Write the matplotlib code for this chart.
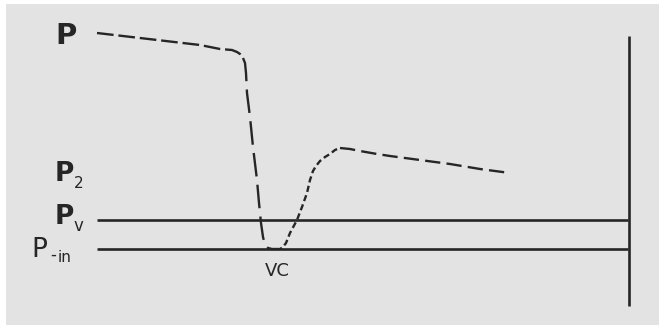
import matplotlib
matplotlib.use("Agg")
import matplotlib.pyplot as plt
from matplotlib.patches import Rectangle

# pressure trace (pixel coords, y down)
haut_x = [97, 140, 200, 220, 232, 237, 240, 243]
haut_y = [33, 38, 45, 49, 50, 52, 54, 58]
chute_x = [243, 245, 246, 247, 250, 253, 257, 259, 261, 263, 265, 268, 272, 276]
chute_y = [58, 63, 73, 93, 117, 147, 180, 203, 223, 237, 245, 248, 249, 249]
remontee_x = [276, 280, 283, 286, 290, 297, 302, 307, 310, 313, 316, 320, 325, 330, 335, 340]
remontee_y = [249, 249, 247, 243, 233, 220, 207, 193, 180, 171, 166, 161, 157, 154, 150, 148]
fin_x = [340, 350, 360, 377, 390, 420, 450, 480, 510]
fin_y = [148, 149, 151, 154, 156, 160, 164, 169, 173]

# reference levels
niveau_pv = 220
niveau_pin = 249
debut_niveaux, fin_niveaux = 97, 628
paroi_x = 629
paroi_y = (36, 306)

couleur = "#262626"
fond = "#e2e3e2"

plt.rcParams['lines.scale_dashes'] = False
fig = plt.figure(figsize=(6.59, 3.25), dpi=100)
ax = fig.add_axes([0, 0, 1, 1])
ax.set_xlim(0, 659)
ax.set_ylim(325, 0)
ax.axis('off')
ax.add_patch(Rectangle((6, 4), 653, 321, facecolor=fond, edgecolor='none', zorder=0))

lw = 1.7
style = dict(color=couleur, lw=lw, solid_joinstyle='round', dash_joinstyle='round')
ax.plot(haut_x, haut_y, dashes=(12, 3.5), **style)
ax.plot(chute_x, chute_y, dashes=(17, 6), **style)
ax.plot(remontee_x, remontee_y, dashes=(4.5, 2.5), **style)
ax.plot(fin_x, fin_y, dashes=(11, 4.5), **style)

ax.hlines([niveau_pv, niveau_pin], debut_niveaux, fin_niveaux, color=couleur, lw=1.9)
ax.vlines(paroi_x, *paroi_y, color=couleur, lw=1.9)

# labels
ax.text(55, 36, "P", fontsize=21, fontweight='bold', color=couleur, va='center', ha='left')
ax.text(55, 174, "P", fontsize=19, fontweight='bold', color=couleur, va='center', ha='left')
ax.text(74, 183, "2", fontsize=11, color=couleur, va='center', ha='left')
ax.text(55, 217, "P", fontsize=19, fontweight='bold', color=couleur, va='center', ha='left')
ax.text(73, 226, "v", fontsize=12, color=couleur, va='center', ha='left')
ax.text(31, 250, "P", fontsize=19, color=couleur, va='center', ha='left')
ax.text(50, 255, "-", fontsize=12, color=couleur, va='center', ha='left')
ax.text(58, 257, "in", fontsize=11, color=couleur, va='center', ha='left')
ax.text(277, 271, "VC", fontsize=13, color=couleur, va='center', ha='center')

fig.savefig("out.png", dpi=100, facecolor='white')
